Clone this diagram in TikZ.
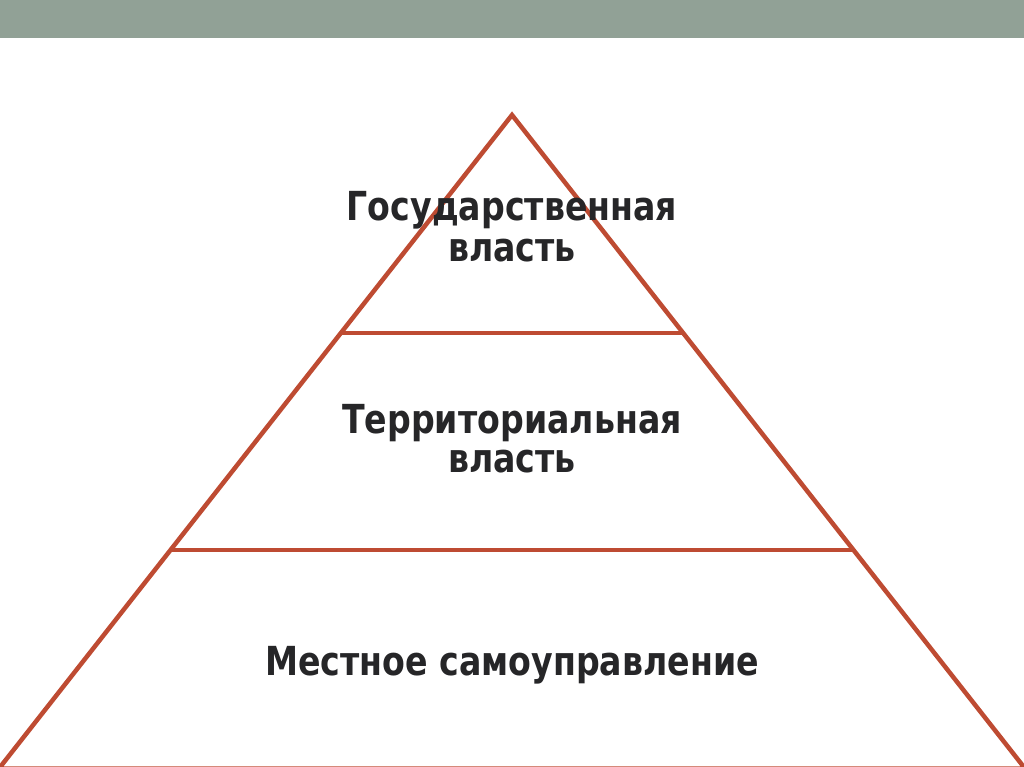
\documentclass[tikz,border=0pt]{standalone}
\usepackage{fontspec}
\setmainfont{DejaVu Sans}
\usepackage{graphicx}
\definecolor{bar}{RGB}{145,161,150}
\definecolor{rust}{RGB}{190,75,50}
\definecolor{ink}{RGB}{38,38,40}
\begin{document}
\begin{tikzpicture}[x=1pt,y=-1pt,
  edge/.style={draw=rust,line width=4.5pt,line cap=butt,line join=miter},
  lbl/.style={anchor=base,inner sep=0pt,text=ink,font=\fontsize{40}{46}\selectfont\bfseries}]
\useasboundingbox (0,0) rectangle (1024,767);
\clip (0,0) rectangle (1024,767);
\fill[bar] (0,0) rectangle (1024,38);
\coordinate (apex) at (512,115);
\coordinate (bl) at (-1,768.5);
\coordinate (br) at (1025,768.5);
\coordinate (l1) at (341.5,333);
\coordinate (r1) at (682.5,333);
\coordinate (l2) at (170.5,550);
\coordinate (r2) at (853.5,550);
\draw[edge] (bl) -- (apex) -- (br) -- cycle;
\draw[edge] (l1) -- (r1);
\draw[edge] (l2) -- (r2);
\node[lbl] (g1) at (512,221) {\scalebox{0.83}[1]{Государственная}};
\node[lbl] (g2) at (512,261) {\scalebox{0.83}[1]{власть}};
\node[lbl] (t1) at (512,433) {\scalebox{0.83}[1]{Территориальная}};
\node[lbl] (t2) at (512,472) {\scalebox{0.83}[1]{власть}};
\node[lbl] (m1) at (512,675) {\scalebox{0.83}[1]{Местное самоуправление}};
\end{tikzpicture}
\end{document}
